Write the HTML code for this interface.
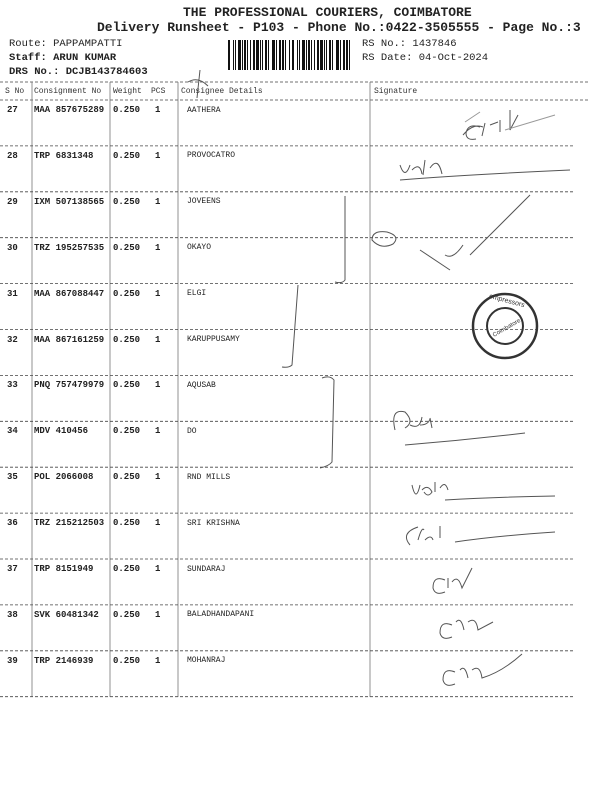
<!DOCTYPE html>
<html><head><meta charset="utf-8"><style>
body{margin:0;width:600px;height:800px;background:#fff;position:relative;overflow:hidden;font-family:"Liberation Mono","DejaVu Sans Mono",monospace;color:#222}
.a{position:absolute;white-space:nowrap}
.t{font-size:9px;font-weight:bold}
.h{font-size:8px;color:#333}
.n{font-size:8px}
</style></head><body>
<div class="a" style="left:183px;top:5px;font-size:13px;font-weight:bold">THE PROFESSIONAL COURIERS, COIMBATORE</div>
<div class="a" style="left:97px;top:20px;font-size:13px;font-weight:bold">Delivery Runsheet - P103 - Phone No.:0422-3505555 - Page No.:3</div>
<div class="a" style="left:9px;top:38px;font-size:10.5px">Route: PAPPAMPATTI</div>
<div class="a" style="left:9px;top:52px;font-size:10.5px;font-weight:bold">Staff: ARUN KUMAR</div>
<div class="a" style="left:9px;top:66px;font-size:10.5px;font-weight:bold">DRS No.: DCJB143784603</div>
<div class="a" style="left:362px;top:38px;font-size:10.5px">RS No.: 1437846</div>
<div class="a" style="left:362px;top:52px;font-size:10.5px">RS Date: 04-Oct-2024</div>
<svg class="a" style="left:0;top:0" width="600" height="800">
<g fill="#111" id="bc"></g>
<g stroke="#444" stroke-width="0.8" stroke-dasharray="3,2" fill="none">
<line x1="0" y1="82" x2="590" y2="82"/><line x1="0" y1="100" x2="590" y2="100"/>
</g>
<g stroke="#777" stroke-width="0.8">
<line x1="32" y1="82" x2="32" y2="697"/><line x1="110" y1="82" x2="110" y2="697"/>
<line x1="178" y1="82" x2="178" y2="697"/><line x1="370" y1="82" x2="370" y2="697"/>
</g>
<g stroke="#444" stroke-width="0.8" stroke-dasharray="3,2" id="rl"></g>
<g stroke="#555" stroke-width="1" fill="none">
<path d="M463 135 q10 -12 20 -8 M480 127 q-12 -4 -14 6 q0 8 10 6 M485 123 l-3 13 M490 125 l8 -3 M500 120 l0 12 M510 110 l0 20 l8 -15"/>
<path d="M400 165 q5 15 10 0 M412 170 q8 -8 10 4 M425 160 l-2 15 M430 168 q8 -12 12 6 M400 180 q60 -5 170 -10"/>
<path d="M345 196 l0 84 q-3 4 -10 2"/>
<path d="M372 240 q0 -10 15 -8 q14 4 6 12 q-12 6 -21 -4 z"/>
<path d="M420 250 l30 20 M445 255 q8 5 18 -10 M470 255 l60 -60"/>
<path d="M298 285 l-6 80 q-3 3 -10 2"/>
<path d="M322 378 q8 -3 12 2 l-2 82 q-3 4 -12 6"/>
<path d="M395 430 q-5 -22 10 -18 q10 10 0 16 M410 425 q10 5 12 -8 M420 425 q8 0 10 -6 M430 418 l2 10 M405 445 q60 -5 120 -12"/>
<path d="M412 485 q4 18 8 0 M422 490 q6 -6 10 2 q-4 6 -8 0 M435 482 l0 10 M440 488 q5 -8 8 2 M445 500 q50 -3 110 -4"/>
<path d="M410 545 q-10 -12 8 -18 M418 540 q4 -14 6 -10 M425 540 q6 -6 8 0 M440 538 l0 -12 M455 542 q40 -6 100 -10"/>
<path d="M445 580 q-12 -5 -12 8 q2 8 12 4 M448 578 l0 10 M452 582 q6 -8 10 6 l10 -20"/>
<path d="M452 625 q-12 -5 -12 8 q2 8 12 4 M456 622 q5 -6 8 8 M468 622 q8 -6 10 8 l15 -8"/>
<path d="M455 672 q-12 -5 -12 8 q2 8 12 4 M460 670 q5 -6 8 8 M472 670 q8 -6 10 8 q20 -6 40 -24"/>
<path d="M465 122 l15 -10 M505 130 l50 -15" stroke="#999"/>
<path d="M200 70 l-3 28 M188 82 q10 -6 20 4"/>
</g>
<circle cx="505" cy="326" r="32" fill="none" stroke="#333" stroke-width="2.5"/>
<circle cx="505" cy="326" r="18" fill="none" stroke="#333" stroke-width="2"/>
<text x="490" y="330" font-size="6" font-family="Liberation Sans" fill="#333" transform="rotate(-30 505 326)">Coimbatore</text>
<text x="482" y="303" font-size="7" font-family="Liberation Sans" fill="#333" transform="rotate(15 505 326)">ompressors</text>
</svg>
<div id="rows"></div>
<script>
var bc=document.getElementById('bc'),x=228,i=0,w=[2,1,1,3,1,2,1,1,2,3,1,1,2,1,3,1,2,2,1,1];
while(x<352){var ww=w[i%w.length];var r=document.createElementNS('http://www.w3.org/2000/svg','rect');r.setAttribute('x',x);r.setAttribute('y',40);r.setAttribute('width',ww);r.setAttribute('height',30);bc.appendChild(r);x+=ww+w[(i*7+3)%w.length];i++;}
var rl=document.getElementById('rl');
for(var k=1;k<=13;k++){var y=100+k*45.9;var l=document.createElementNS('http://www.w3.org/2000/svg','line');l.setAttribute('x1',0);l.setAttribute('x2',575);l.setAttribute('y1',y);l.setAttribute('y2',y);rl.appendChild(l);}
var d=[["27","MAA 857675289","AATHERA"],["28","TRP 6831348","PROVOCATRO"],["29","IXM 507138565","JOVEENS"],["30","TRZ 195257535","OKAYO"],["31","MAA 867088447","ELGI"],["32","MAA 867161259","KARUPPUSAMY"],["33","PNQ 757479979","AQUSAB"],["34","MDV 410456","DO"],["35","POL 2066008","RND MILLS"],["36","TRZ 215212503","SRI KRISHNA"],["37","TRP 8151949","SUNDARAJ"],["38","SVK 60481342","BALADHANDAPANI"],["39","TRP 2146939","MOHANRAJ"]];
var h='<div class="a h" style="left:5px;top:87px">S No</div><div class="a h" style="left:34px;top:87px">Consignment No</div><div class="a h" style="left:113px;top:87px">Weight</div><div class="a h" style="left:151px;top:87px">PCS</div><div class="a h" style="left:181px;top:87px">Consignee Details</div><div class="a h" style="left:374px;top:87px">Signature</div>';
for(var j=0;j<d.length;j++){var t=100+j*45.9+5;h+='<div class="a t" style="left:7px;top:'+t+'px">'+d[j][0]+'</div><div class="a t" style="left:34px;top:'+t+'px">'+d[j][1]+'</div><div class="a t" style="left:113px;top:'+t+'px">0.250</div><div class="a t" style="left:155px;top:'+t+'px">1</div><div class="a n" style="left:187px;top:'+(t+0.5)+'px">'+d[j][2]+'</div>';}
document.getElementById('rows').innerHTML=h;
</script>
</body></html>
